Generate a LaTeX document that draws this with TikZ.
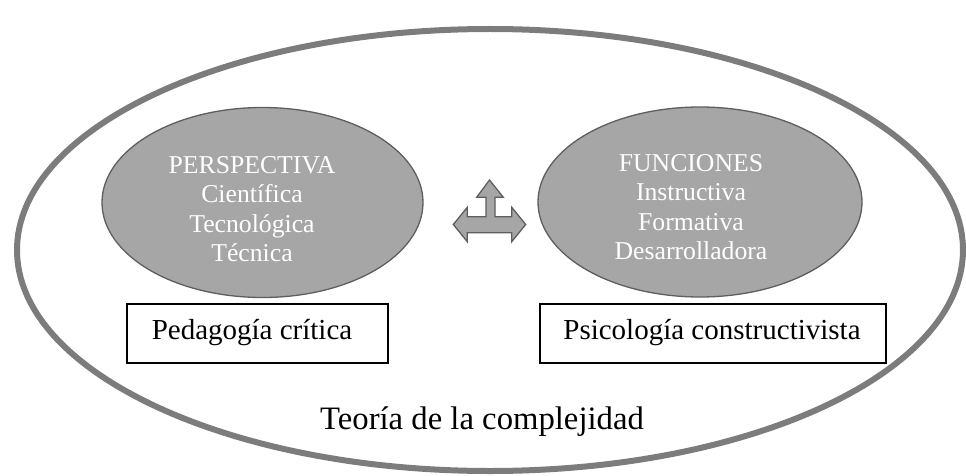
\documentclass[tikz,border=0pt]{standalone}
\usepackage{fontspec}
\setmainfont{Liberation Serif}
\usetikzlibrary{shapes.geometric}
\definecolor{ringgray}{HTML}{7C7C7C}
\definecolor{ovalfill}{HTML}{A6A6A6}
\definecolor{ovaledge}{HTML}{5E5E5E}
\tikzset{
  outerring/.style={ellipse, draw=ringgray, line width=6pt, minimum width=946pt, minimum height=442pt, inner sep=0pt},
  oval/.style={ellipse, draw=ovaledge, fill=ovalfill, line width=1.3pt, minimum height=190pt, inner sep=0pt},
  ovaltext/.style={text=white, align=center, font=\fontsize{25.7}{29.3}\selectfont, inner sep=0pt},
  labelbox/.style={draw=black, line width=2pt, minimum height=59pt, inner sep=0pt},
  boxtext/.style={font=\fontsize{29}{31}\selectfont, inner sep=0pt},
  arrowshape/.style={draw=ovaledge, fill=ovalfill, line width=1.3pt, line join=miter},
}
\begin{document}
\begin{tikzpicture}[x=1pt,y=-1pt]
\useasboundingbox (0,0) rectangle (966,476);
\node[outerring] (outer) at (490,250) {};
\node[oval, minimum width=321pt] (left) at (262.5,202.5) {};
\node[oval, minimum width=324pt] (right) at (700,202) {};
\node[ovaltext] (lt) at (252,209) {PERSPECTIVA\\Científica\\Tecnológica\\Técnica};
\node[ovaltext] (rt) at (691,207) {FUNCIONES\\Instructiva\\Formativa\\Desarrolladora};
\node[labelbox, minimum width=261pt] (pbox) at (257.5,333.5) {};
\node[boxtext] (ptxt) at (252,333) {Pedagogía crítica};
\node[labelbox, minimum width=346pt] (sbox) at (713,333.5) {};
\node[boxtext] (stxt) at (712,333) {Psicología constructivista};
\node[font=\fontsize{32.7}{35}\selectfont, inner sep=0pt] (teoria) at (482,422) {Teoría de la complejidad};
\draw[arrowshape] (453.3,224.5) -- (467.3,207.3) -- (467.3,216.7) -- (486,216.7) -- (486,197.3) -- (476.7,197.3) -- (489.5,180) -- (503.3,197.3) -- (495,197.3) -- (495,216.7) -- (511.7,216.7) -- (511.7,207.3) -- (525.7,224.5) -- (511.7,241.7) -- (511.7,232.7) -- (467.3,232.7) -- (467.3,241.7) -- cycle;
\end{tikzpicture}
\end{document}
